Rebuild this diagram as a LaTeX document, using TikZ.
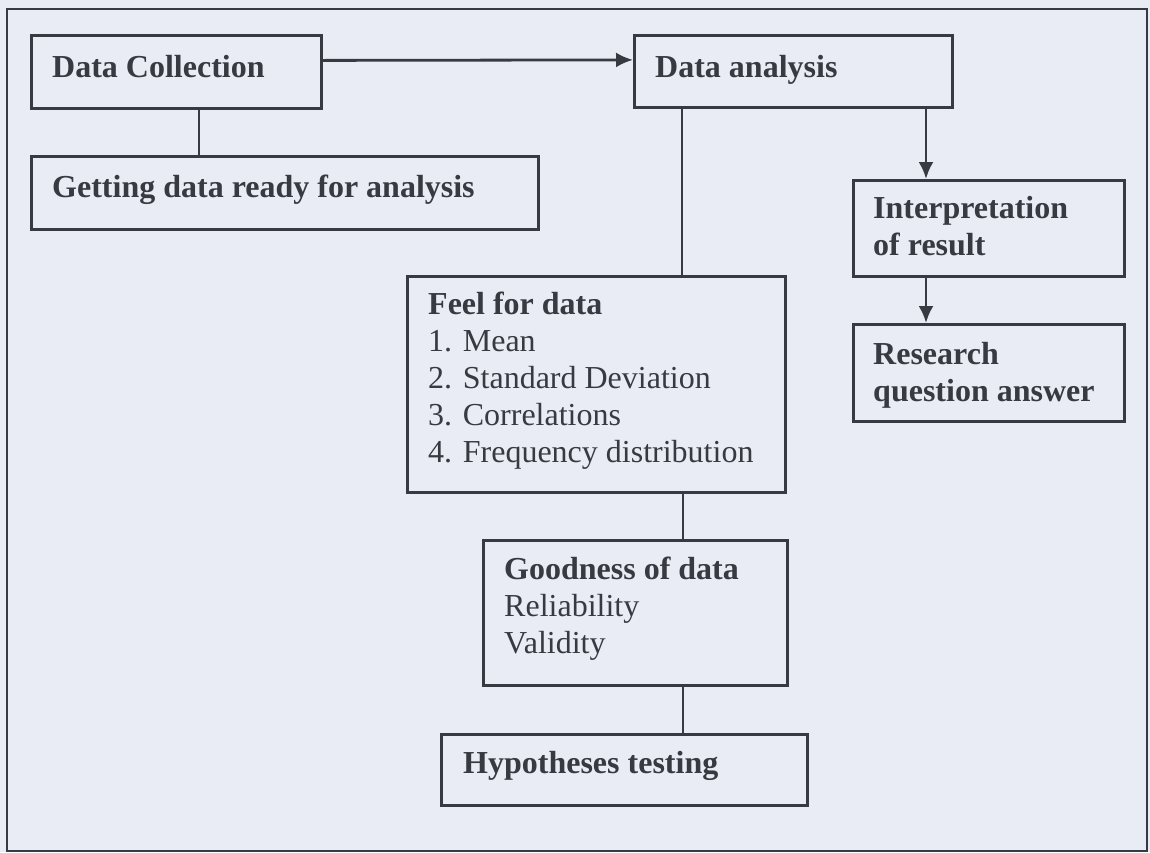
\documentclass[tikz,border=0pt]{standalone}
\usepackage{fontspec}
\setmainfont{Liberation Serif}
\usetikzlibrary{arrows.meta}
\definecolor{bg}{RGB}{234,236,245}
\definecolor{ink}{RGB}{55,58,64}
\begin{document}
\begin{tikzpicture}[x=1pt,y=-1pt,
  box/.style={draw=ink, line width=2.8pt, inner sep=0pt, anchor=north west},
  txt/.style={text=ink, font=\fontsize{32}{37}\selectfont, inner sep=0pt, anchor=base west, align=left},
  ln/.style={draw=ink, line width=2.8pt},
  arr/.style={ln, -{Latex[length=17pt,width=15pt]}}]
\useasboundingbox (0,0) rectangle (1150,852);
\fill[bg] (0,0) rectangle (1150,852);
\draw[ln] (7,9) rectangle (1147,851);
% boxes
\node[box, minimum width=290pt, minimum height=73pt] (dc) at (30,34) {};
\node[box, minimum width=507pt, minimum height=73pt] (gd) at (30,155) {};
\node[box, minimum width=318pt, minimum height=72pt] (da) at (633,34) {};
\node[box, minimum width=271pt, minimum height=96pt] (ip) at (852,179) {};
\node[box, minimum width=271pt, minimum height=97pt] (rq) at (852,323) {};
\node[box, minimum width=378pt, minimum height=216pt] (fd) at (406,275) {};
\node[box, minimum width=304pt, minimum height=145pt] (gq) at (482,539) {};
\node[box, minimum width=366pt, minimum height=71pt] (ht) at (440,733) {};
% texts (anchor = baseline of the last line)
\node[txt] (tdc) at (52,77) {\textbf{Data Collection}};
\node[txt] (tda) at (655,77) {\textbf{Data analysis}};
\node[txt] (tgd) at (52,197) {\textbf{Getting data ready for analysis}};
\node[txt] (tip) at (873,255) {\textbf{Interpretation}\\\textbf{of result}};
\node[txt] (trq) at (873,401) {\textbf{Research}\\\textbf{question answer}};
\node[txt] (tfd) at (428,462) {\textbf{Feel for data}\\1. Mean\\2. Standard Deviation\\3. Correlations\\4. Frequency distribution};
\node[txt] (tgq) at (504,653) {\textbf{Goodness of data}\\Reliability\\Validity};
\node[txt] (tht) at (463,773) {\textbf{Hypotheses testing}};
% connector x positions
\coordinate (xa) at (199,0);
\coordinate (xb) at (682,0);
\coordinate (xc) at (926,0);
\coordinate (xd) at (683,0);
% connectors
\draw[ln] (dc.south -| xa) -- (gd.north -| xa);
\draw[arr] ([yshift=11.5pt]dc.east) -- ([yshift=11.5pt]da.west);
\draw[ln] (da.south -| xb) -- (fd.north -| xb);
\draw[arr] (da.south -| xc) -- (ip.north -| xc);
\draw[arr] (ip.south -| xc) -- (rq.north -| xc);
\draw[ln] (fd.south -| xd) -- (gq.north -| xd);
\draw[ln] (gq.south -| xd) -- (ht.north -| xd);
\end{tikzpicture}
\end{document}
